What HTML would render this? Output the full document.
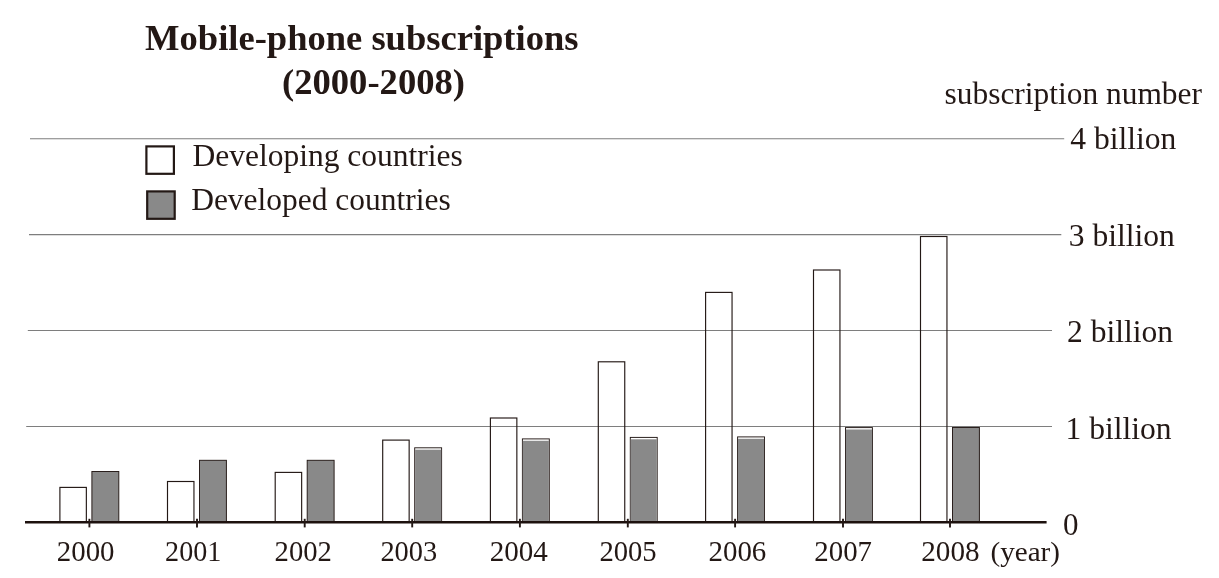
<!DOCTYPE html>
<html lang="en"><head><meta charset="utf-8"><title>Mobile-phone subscriptions (2000-2008)</title>
<style>html,body{margin:0;padding:0;background:#fff}svg{display:block}text{font-family:"Liberation Serif","Times New Roman",serif;fill:#231815}</style></head><body>
<svg width="1219" height="578" viewBox="0 0 1219 578">
<rect width="1219" height="578" fill="#fff"/>
<line x1="30.0" y1="138.65" x2="1064.2" y2="138.65" stroke="#7e7e7e" stroke-width="1.05"/>
<line x1="29.0" y1="234.60" x2="1061.3" y2="234.60" stroke="#7e7e7e" stroke-width="1.05"/>
<line x1="27.8" y1="330.50" x2="1052.0" y2="330.50" stroke="#7e7e7e" stroke-width="1.05"/>
<line x1="26.2" y1="426.40" x2="1052.0" y2="426.40" stroke="#7e7e7e" stroke-width="1.05"/>
<rect x="59.90" y="487.40" width="26.45" height="34.80" fill="none" stroke="#231815" stroke-width="1.15"/>
<rect x="91.90" y="471.50" width="26.90" height="50.70" fill="#898989" stroke="#231815" stroke-width="0.95"/>
<rect x="167.50" y="481.50" width="26.45" height="40.70" fill="none" stroke="#231815" stroke-width="1.15"/>
<rect x="199.50" y="460.30" width="26.90" height="61.90" fill="#898989" stroke="#231815" stroke-width="0.95"/>
<rect x="275.20" y="472.40" width="26.45" height="49.80" fill="none" stroke="#231815" stroke-width="1.15"/>
<rect x="307.20" y="460.30" width="26.90" height="61.90" fill="#898989" stroke="#231815" stroke-width="0.95"/>
<rect x="382.70" y="440.10" width="26.45" height="82.10" fill="none" stroke="#231815" stroke-width="1.15"/>
<rect x="414.70" y="447.80" width="26.90" height="74.40" fill="#fff" stroke="#231815" stroke-width="0.95"/>
<rect x="415.10" y="449.70" width="26.10" height="72.50" fill="#898989"/>
<rect x="490.40" y="418.00" width="26.45" height="104.20" fill="none" stroke="#231815" stroke-width="1.15"/>
<rect x="522.40" y="438.90" width="26.90" height="83.30" fill="#fff" stroke="#231815" stroke-width="0.95"/>
<rect x="522.80" y="440.80" width="26.10" height="81.40" fill="#898989"/>
<rect x="598.30" y="361.80" width="26.45" height="160.40" fill="none" stroke="#231815" stroke-width="1.15"/>
<rect x="630.30" y="437.40" width="26.90" height="84.80" fill="#fff" stroke="#231815" stroke-width="0.95"/>
<rect x="630.70" y="439.30" width="26.10" height="82.90" fill="#898989"/>
<rect x="705.60" y="292.40" width="26.45" height="229.80" fill="none" stroke="#231815" stroke-width="1.15"/>
<rect x="737.60" y="436.90" width="26.90" height="85.30" fill="#fff" stroke="#231815" stroke-width="0.95"/>
<rect x="738.00" y="438.80" width="26.10" height="83.40" fill="#898989"/>
<rect x="813.50" y="270.00" width="26.45" height="252.20" fill="none" stroke="#231815" stroke-width="1.15"/>
<rect x="845.50" y="427.60" width="26.90" height="94.60" fill="#fff" stroke="#231815" stroke-width="0.95"/>
<rect x="845.90" y="429.50" width="26.10" height="92.70" fill="#898989"/>
<rect x="920.50" y="236.50" width="26.45" height="285.70" fill="none" stroke="#231815" stroke-width="1.15"/>
<rect x="952.50" y="427.50" width="26.90" height="94.70" fill="#898989" stroke="#231815" stroke-width="0.95"/>
<line x1="25.0" y1="522.2" x2="1046.6" y2="522.2" stroke="#1d110e" stroke-width="2.4"/>
<line x1="89.40" y1="518.8" x2="89.40" y2="527.4" stroke="#231815" stroke-width="1.9"/>
<line x1="197.00" y1="518.8" x2="197.00" y2="527.4" stroke="#231815" stroke-width="1.9"/>
<line x1="304.70" y1="518.8" x2="304.70" y2="527.4" stroke="#231815" stroke-width="1.9"/>
<line x1="412.20" y1="518.8" x2="412.20" y2="527.4" stroke="#231815" stroke-width="1.9"/>
<line x1="519.90" y1="518.8" x2="519.90" y2="527.4" stroke="#231815" stroke-width="1.9"/>
<line x1="627.80" y1="518.8" x2="627.80" y2="527.4" stroke="#231815" stroke-width="1.9"/>
<line x1="735.10" y1="518.8" x2="735.10" y2="527.4" stroke="#231815" stroke-width="1.9"/>
<line x1="843.00" y1="518.8" x2="843.00" y2="527.4" stroke="#231815" stroke-width="1.9"/>
<line x1="950.00" y1="518.8" x2="950.00" y2="527.4" stroke="#231815" stroke-width="1.9"/>
<rect x="146.4" y="146.4" width="27.5" height="27.4" fill="#fff" stroke="#231815" stroke-width="2.2"/>
<rect x="147.2" y="191.4" width="27.5" height="27.4" fill="#898989" stroke="#231815" stroke-width="2.2"/>
<text x="145.1" y="50.3" font-size="35.4" font-weight="bold" textLength="433.4" lengthAdjust="spacingAndGlyphs">Mobile-phone subscriptions</text>
<text x="282.0" y="94.2" font-size="36.2" font-weight="bold" textLength="183.0" lengthAdjust="spacingAndGlyphs">(2000-2008)</text>
<text x="192.4" y="166.2" font-size="30.5" textLength="270.5" lengthAdjust="spacingAndGlyphs">Developing countries</text>
<text x="191.2" y="210.2" font-size="30.5" textLength="259.5" lengthAdjust="spacingAndGlyphs">Developed countries</text>
<text x="944.5" y="103.8" font-size="30.5" textLength="257.5" lengthAdjust="spacingAndGlyphs">subscription number</text>
<text x="1070.3" y="149.2" font-size="30.5" textLength="106.0" lengthAdjust="spacingAndGlyphs">4 billion</text>
<text x="1068.8" y="246.1" font-size="30.5" textLength="106.0" lengthAdjust="spacingAndGlyphs">3 billion</text>
<text x="1067.0" y="342.3" font-size="30.5" textLength="106.0" lengthAdjust="spacingAndGlyphs">2 billion</text>
<text x="1065.5" y="439.0" font-size="30.5" textLength="106.0" lengthAdjust="spacingAndGlyphs">1 billion</text>
<text x="1063.0" y="534.6" font-size="30.5" textLength="15.5" lengthAdjust="spacingAndGlyphs">0</text>
<text x="56.8" y="561.0" font-size="29.5" textLength="57.7" lengthAdjust="spacingAndGlyphs">2000</text>
<text x="165.1" y="561.0" font-size="29.5" textLength="56.2" lengthAdjust="spacingAndGlyphs">2001</text>
<text x="274.6" y="561.0" font-size="29.5" textLength="57.3" lengthAdjust="spacingAndGlyphs">2002</text>
<text x="380.4" y="561.0" font-size="29.5" textLength="56.8" lengthAdjust="spacingAndGlyphs">2003</text>
<text x="489.7" y="561.0" font-size="29.5" textLength="58.2" lengthAdjust="spacingAndGlyphs">2004</text>
<text x="599.4" y="561.0" font-size="29.5" textLength="57.3" lengthAdjust="spacingAndGlyphs">2005</text>
<text x="708.5" y="561.0" font-size="29.5" textLength="57.8" lengthAdjust="spacingAndGlyphs">2006</text>
<text x="814.3" y="561.0" font-size="29.5" textLength="57.7" lengthAdjust="spacingAndGlyphs">2007</text>
<text x="921.3" y="561.0" font-size="29.5" textLength="58.3" lengthAdjust="spacingAndGlyphs">2008</text>
<text x="990.5" y="560.8" font-size="28" textLength="69.5" lengthAdjust="spacingAndGlyphs">(year)</text>
</svg></body></html>
